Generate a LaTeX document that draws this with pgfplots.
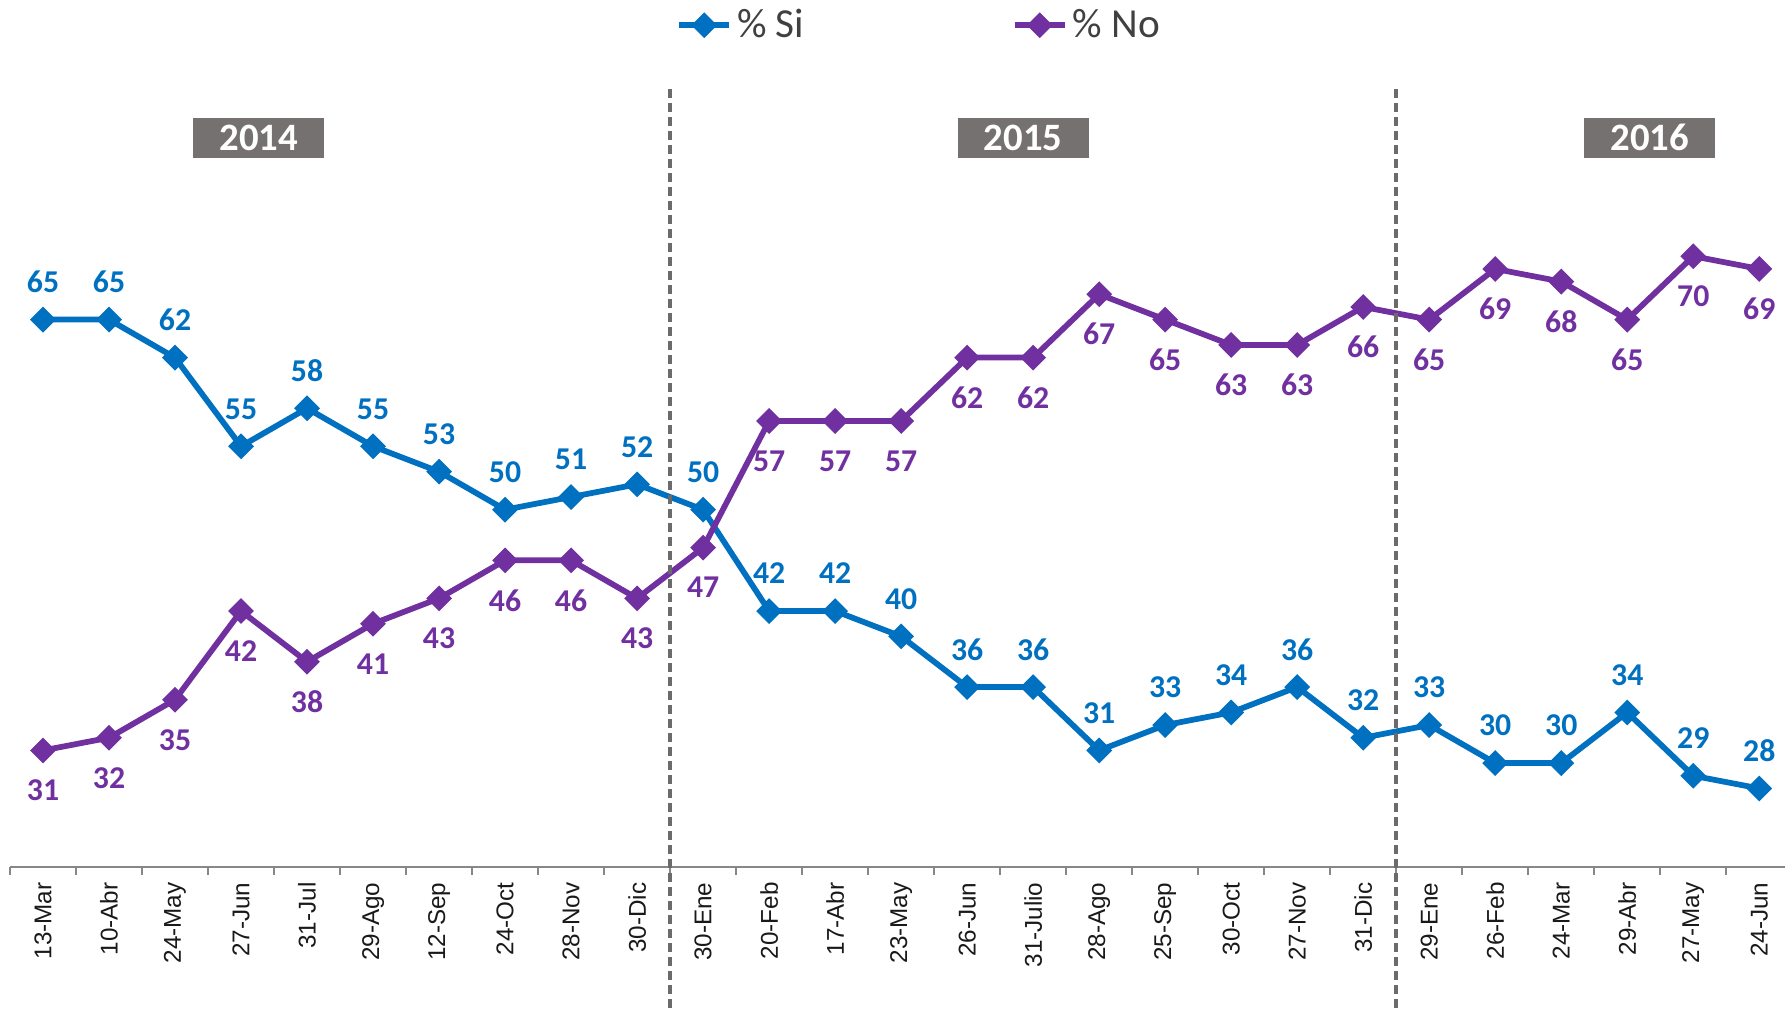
\documentclass[border=0pt]{standalone}
\usepackage{fontspec}
\setmainfont{Carlito}
\newfontfamily\arialf{Liberation Sans}
\usepackage{pgfplots}
\pgfplotsset{compat=1.18}
\definecolor{siblue}{HTML}{0070C0}
\definecolor{nopurple}{HTML}{7030A0}
\definecolor{yeargray}{HTML}{767171}
\definecolor{axgray}{HTML}{878787}
\definecolor{dashgray}{HTML}{6B6B6B}
\begin{document}
\begin{tikzpicture}
\useasboundingbox (0,0) rectangle (714pt,404pt);
\begin{axis}[
  at={(4pt,57.2pt)}, anchor=south west,
  scale only axis, width=710pt, height=311.2pt,
  xmin=-0.5, xmax=26.39, ymin=21.8, ymax=83.2,
  axis y line=none,
  axis x line*=bottom,
  x axis line style={draw=axgray, line width=0.8pt, -},
  xtick={-0.5,0.5,...,26.5}, xticklabels={},
  major tick length=3pt, tick align=outside,
  x tick style={draw=axgray, line width=0.8pt},
  extra x ticks={0,1,...,26},
  extra x tick style={major tick length=0pt},
  extra x tick labels={13-Mar,10-Abr,24-May,27-Jun,31-Jul,29-Ago,12-Sep,24-Oct,28-Nov,30-Dic,30-Ene,20-Feb,17-Abr,23-May,26-Jun,31-Julio,28-Ago,25-Sep,30-Oct,27-Nov,31-Dic,29-Ene,26-Feb,24-Mar,29-Abr,27-May,24-Jun},
  xticklabel style={rotate=90, anchor=east, font=\arialf\fontsize{9.7}{11}\selectfont, text=black!90, inner sep=0pt},
  xticklabel shift=6pt,
  clip=false,
  legend columns=2,
  legend style={at={(0.513,1.082)}, anchor=center, draw=none, fill=none,
    font=\fontsize{16.5}{18}\selectfont, text=black!75,
    /tikz/every even column/.append style={column sep=81pt},
    legend cell align=left},
  legend image code/.code={\draw[mark repeat=2,mark phase=2] plot coordinates {(0pt,0pt)(10pt,0pt)(20pt,0pt)};},
  nodes near coords,
  point meta=explicit symbolic,
]
\addplot[siblue, line width=2.3pt, mark=square*, mark size=2.5pt, mark options={rotate=45, solid},
  every node near coord/.append style={anchor=center, yshift=15pt, font=\bfseries\fontsize{12.7}{14}\selectfont, text=siblue}]
  coordinates {(0,65)[65] (1,65)[65] (2,62)[62] (3,55)[55] (4,58)[58] (5,55)[55] (6,53)[53] (7,50)[50] (8,51)[51] (9,52)[52] (10,50)[50] (11,42)[42] (12,42)[42] (13,40)[40] (14,36)[36] (15,36)[36] (16,31)[31] (17,33)[33] (18,34)[34] (19,36)[36] (20,32)[32] (21,33)[33] (22,30)[30] (23,30)[30] (24,34)[34] (25,29)[29] (26,28)[28]};
\addlegendentry{\% Si}
\addplot[nopurple, line width=2.3pt, mark=square*, mark size=2.5pt, mark options={rotate=45, solid},
  every node near coord/.append style={anchor=center, yshift=-16pt, font=\bfseries\fontsize{12.7}{14}\selectfont, text=nopurple}]
  coordinates {(0,31)[31] (1,32)[32] (2,35)[35] (3,42)[42] (4,38)[38] (5,41)[41] (6,43)[43] (7,46)[46] (8,46)[46] (9,43)[43] (10,47)[47] (11,57)[57] (12,57)[57] (13,57)[57] (14,62)[62] (15,62)[62] (16,67)[67] (17,65)[65] (18,63)[63] (19,63)[63] (20,66)[66] (21,65)[65] (22,69)[69] (23,68)[68] (24,65)[65] (25,70)[70] (26,69)[69]};
\addlegendentry{\% No}
\draw[dashgray, line width=1.8pt, dash pattern=on 3.6pt off 2pt] (axis cs:9.5,83.2) -- (axis cs:9.5,10);
\draw[dashgray, line width=1.8pt, dash pattern=on 3.6pt off 2pt] (axis cs:20.5,83.2) -- (axis cs:20.5,10);
\foreach \xx/\yr in {3.27/2014, 14.85/2015, 24.34/2016}{
  \edef\tmp{\noexpand\node[fill=yeargray, text=white, font=\noexpand\bfseries\noexpand\fontsize{15.5}{17}\noexpand\selectfont, minimum width=52.4pt, minimum height=16pt, inner sep=0pt] at (axis cs:\xx,79.35) {\yr};}\tmp
}
\end{axis}
\end{tikzpicture}
\end{document}
